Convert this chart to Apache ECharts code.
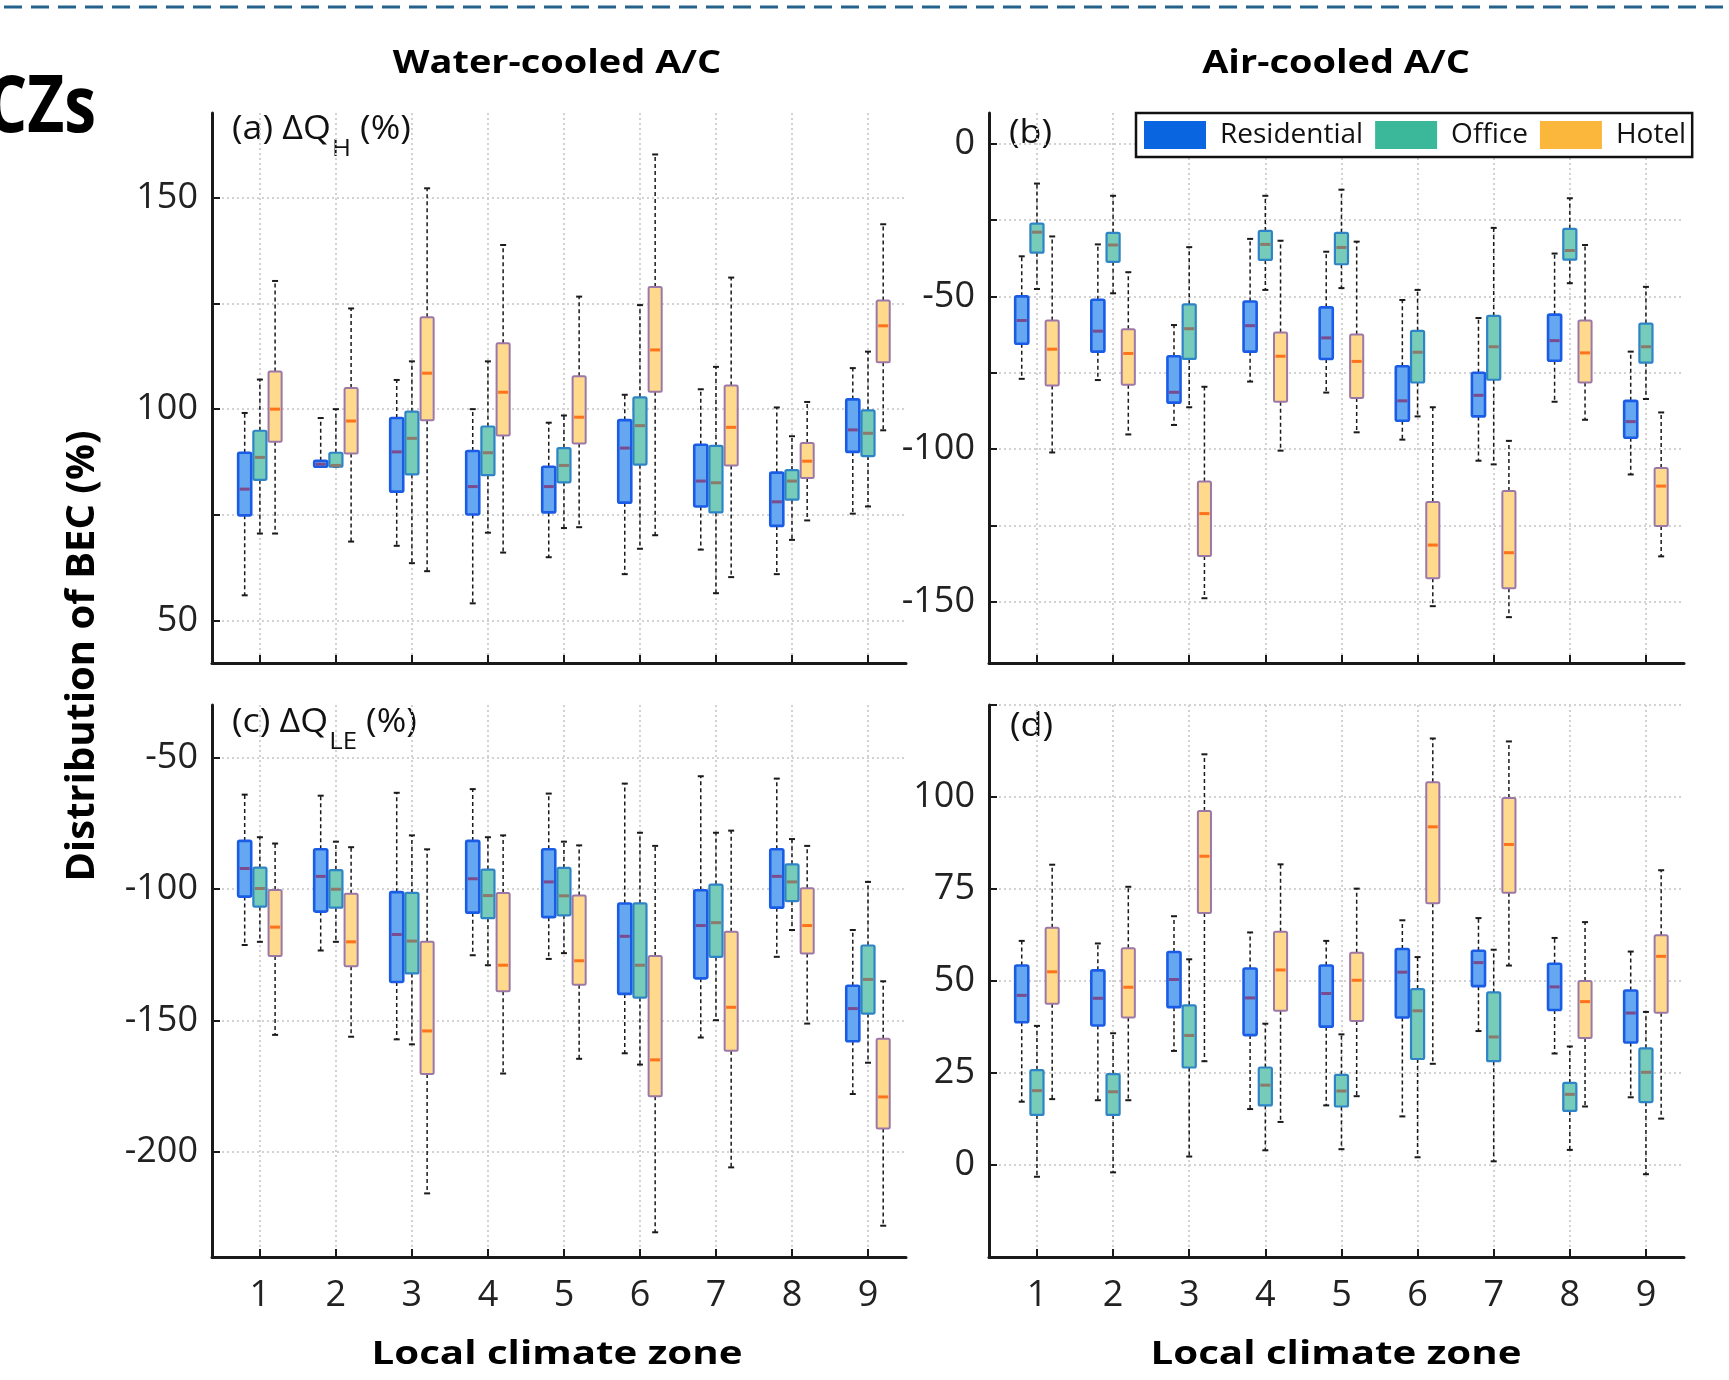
<!DOCTYPE html>
<html>
<head>
<meta charset="utf-8">
<script src="https://cdn.jsdelivr.net/npm/echarts@6/dist/echarts.min.js"></script>
<style>
html,body{margin:0;padding:0;background:#fff;}
#chart{width:1729px;height:1380px;}
</style>
</head>
<body>
<div id="chart"></div>
<script>
// ---------------- DATA ----------------
// categories (local climate zones)
const LCZ = [1, 2, 3, 4, 5, 6, 7, 8, 9];
const SERIES_NAMES = ['Residential', 'Office', 'Hotel'];
// each entry: [whisker min, Q1, median, Q3, whisker max]
// (a) Water-cooled, ΔQ_H (%)
const a_residential = [[56.0,74.9,81.1,89.7,99.1],[86.4,86.4,87.0,87.8,97.9],[67.7,80.5,89.9,97.9,106.9],[54.1,75.1,81.7,90.1,100.0],[65.0,75.6,81.7,86.4,96.8],[61.0,77.9,90.8,97.4,103.4],[66.8,77.0,83.0,91.6,104.7],[61.0,72.4,78.1,85.0,100.4],[75.3,89.9,95.1,102.3,109.7]];
const a_office = [[70.6,83.3,88.6,94.9,107.0],[86.4,86.4,86.7,89.7,100.0],[63.6,84.6,93.1,99.4,111.3],[70.8,84.4,89.7,95.9,111.3],[71.9,82.7,86.7,90.8,98.5],[67.0,86.9,96.1,102.8,124.6],[56.5,75.6,82.6,91.3,110.0],[69.1,78.6,83.0,85.6,93.6],[77.0,88.9,94.3,99.7,113.6]];
const a_hotel = [[70.6,92.3,100.0,108.9,130.3],[68.7,89.5,97.2,105.0,123.8],[61.7,97.4,108.5,121.7,152.2],[66.1,93.8,104.0,115.6,138.8],[72.1,91.9,98.1,107.8,126.6],[70.2,104.1,114.0,128.9,160.2],[60.3,86.7,95.7,105.6,131.1],[73.7,83.7,87.7,92.0,101.7],[95.0,111.1,119.7,125.7,143.7]];
// (b) Air-cooled, ΔQ_H (%)
const b_residential = [[-77.0,-65.5,-57.9,-50.0,-36.9],[-77.4,-68.1,-61.4,-51.1,-33.0],[-92.1,-84.8,-81.4,-69.6,-59.4],[-77.9,-68.1,-59.6,-51.7,-31.2],[-81.5,-70.5,-63.6,-53.6,-35.4],[-96.9,-90.7,-84.2,-72.9,-51.2],[-103.8,-89.3,-82.4,-75.0,-57.1],[-84.5,-71.1,-64.5,-56.0,-36.0],[-108.3,-96.3,-91.0,-84.2,-68.1]];
const b_office = [[-47.6,-35.7,-29.0,-26.2,-13.1],[-49.0,-38.7,-33.2,-29.2,-17.1],[-86.3,-70.5,-60.6,-52.6,-33.9],[-47.9,-38.1,-33.0,-28.6,-17.1],[-47.3,-39.5,-34.0,-29.2,-15.1],[-89.3,-78.2,-68.3,-61.3,-47.9],[-105.0,-77.3,-66.5,-56.4,-27.6],[-45.7,-38.0,-35.0,-27.9,-17.9],[-83.6,-71.7,-66.5,-58.9,-46.9]];
const b_hotel = [[-101.1,-79.2,-67.3,-57.9,-30.4],[-95.2,-78.9,-68.7,-60.8,-42.1],[-148.8,-135.0,-121.1,-110.6,-79.6],[-100.5,-84.5,-69.6,-61.8,-31.8],[-94.5,-83.3,-71.3,-62.5,-32.1],[-151.4,-142.3,-131.4,-117.3,-86.3],[-155.0,-145.5,-133.9,-113.7,-97.3],[-90.4,-78.2,-68.5,-57.9,-33.2],[-135.1,-125.2,-112.1,-106.2,-88.0]];
// (c) Water-cooled, ΔQ_LE (%)
const c_residential = [[-121.3,-102.9,-92.2,-81.7,-64.1],[-123.4,-108.6,-95.2,-84.9,-64.5],[-157.2,-135.4,-117.3,-101.2,-63.4],[-125.2,-109.0,-96.1,-81.7,-62.0],[-126.6,-110.7,-97.3,-84.9,-63.7],[-162.5,-139.9,-118.0,-105.5,-59.9],[-156.5,-134.0,-113.9,-100.5,-57.1],[-125.8,-107.1,-95.2,-84.9,-58.0],[-178.0,-157.9,-145.5,-136.8,-115.6]];
const c_office = [[-120.1,-106.7,-99.8,-91.9,-80.3],[-120.1,-107.1,-100.1,-92.8,-82.0],[-159.1,-132.1,-119.8,-101.5,-79.6],[-129.0,-111.1,-102.5,-92.6,-80.3],[-124.4,-110.0,-102.6,-92.0,-82.0],[-166.8,-141.3,-129.0,-105.5,-78.6],[-149.9,-125.8,-112.8,-98.3,-78.6],[-115.6,-104.6,-97.3,-90.6,-81.0],[-166.1,-147.4,-134.4,-121.5,-97.3]];
const c_hotel = [[-155.5,-125.5,-114.5,-100.4,-82.7],[-156.2,-129.4,-120.1,-101.8,-84.1],[-215.8,-170.4,-154.0,-120.1,-84.9],[-170.2,-138.9,-129.0,-101.5,-79.6],[-164.6,-136.4,-127.3,-102.5,-83.4],[-230.6,-178.8,-165.0,-125.5,-83.6],[-205.9,-161.5,-145.0,-116.3,-77.8],[-151.2,-124.5,-113.9,-99.7,-83.6],[-228.1,-191.1,-179.1,-157.0,-135.1]];
// (d) Air-cooled, ΔQ_LE (%)
const d_residential = [[17.2,38.8,46.1,54.2,60.9],[17.6,37.9,45.3,52.9,60.2],[31.0,42.9,50.4,57.9,67.6],[15.2,35.3,45.4,53.4,63.2],[16.2,37.6,46.6,54.2,60.9],[13.2,40.1,52.4,58.7,66.5],[36.4,48.6,55.0,58.2,67.1],[30.3,42.1,48.4,54.7,61.7],[18.4,33.3,41.3,47.4,58.0]];
const d_office = [[-3.2,13.6,20.2,25.8,37.8],[-2.0,13.6,19.9,24.7,35.8],[2.3,26.5,35.2,43.4,55.9],[4.0,16.2,21.7,26.5,38.4],[4.3,15.9,20.1,24.5,35.5],[2.1,28.8,41.9,47.8,56.5],[1.0,28.2,34.8,46.9,58.5],[4.1,14.7,19.2,22.3,32.2],[-2.5,17.1,25.2,31.7,41.6]];
const d_hotel = [[17.9,43.8,52.5,64.5,81.6],[17.6,40.1,48.3,58.9,75.6],[28.2,68.5,83.9,96.2,111.6],[11.7,41.9,53.0,63.4,81.7],[18.7,39.1,50.2,57.7,75.1],[27.5,71.1,91.9,104.0,115.9],[54.2,74.0,87.1,99.7,115.1],[15.9,34.5,44.4,50.0,66.0],[12.6,41.4,56.7,62.4,80.1]];

// tick values and labels
const xTicks = [1, 2, 3, 4, 5, 6, 7, 8, 9];
const yTicksA = [50, 75, 100, 125, 150];     const yLabelsA = [50, 100, 150];
const yTicksB = [-150, -125, -100, -75, -50, -25, 0]; const yLabelsB = [-150, -100, -50, 0];
const yTicksC = [-200, -150, -100, -50];     const yLabelsC = [-200, -150, -100, -50];
const yTicksD = [0, 25, 50, 75, 100, 125];   const yLabelsD = [0, 25, 50, 75, 100];

// ---------------- STYLE ----------------
const FONT = '"Open Sans", "Liberation Sans", sans-serif';
const STYLES = {
  Residential: {fill: '#65a7f0', border: '#1b5ce6', bw: 2.6, med: '#7a4b8e', legend: '#0a66e0', off: -0.2},
  Office:      {fill: '#76ccb8', border: '#2e84c6', bw: 2.2, med: '#8c7a6a', legend: '#3bb89a', off: 0},
  Hotel:       {fill: '#ffd98c', border: '#9c78a8', bw: 2.0, med: '#ff731a', legend: '#fbb73c', off: 0.2}
};
const BOX_W = 0.172;

const GRIDS = [
  {left: 212, top: 113, width: 694, height: 550},
  {left: 989, top: 113, width: 695, height: 550},
  {left: 212, top: 705, width: 694, height: 552},
  {left: 989, top: 705, width: 695, height: 552}
];
const Y_RANGES = [[40, 170], [-170, 10], [-240, -30], [-25, 125]];
const Y_TICKS = [yTicksA, yTicksB, yTicksC, yTicksD];
const Y_LABELS = [yLabelsA, yLabelsB, yLabelsC, yLabelsD];
const PANEL_DATA = [
  [a_residential, a_office, a_hotel],
  [b_residential, b_office, b_hotel],
  [c_residential, c_office, c_hotel],
  [d_residential, d_office, d_hotel]
];

const gridLine = {show: true, lineStyle: {color: '#d2d2d2', width: 2, type: [2, 3]}};
const axisLine = {show: true, onZero: false, lineStyle: {color: '#1a1a1a', width: 3}};

const xAxes = GRIDS.map((g, i) => ({
  type: 'value', gridIndex: i, min: 0.37, max: 9.5,
  axisLine: axisLine,
  axisTick: {show: true, inside: true, length: 8, lineStyle: {color: '#1a1a1a', width: 2}, customValues: xTicks},
  axisLabel: {show: i >= 2, customValues: xTicks, margin: 21, fontSize: 36, fontFamily: FONT, color: '#222'},
  splitLine: gridLine
}));
const yAxes = GRIDS.map((g, i) => ({
  type: 'value', gridIndex: i, min: Y_RANGES[i][0], max: Y_RANGES[i][1],
  axisLine: axisLine,
  axisTick: {show: true, inside: true, length: 8, lineStyle: {color: '#1a1a1a', width: 2}, customValues: Y_TICKS[i]},
  axisLabel: {show: true, customValues: Y_LABELS[i], margin: 14, fontSize: 36, fontFamily: FONT, color: '#222'},
  splitLine: gridLine
}));

function makeRender(st) {
  return function (params, api) {
    const x = api.value(0) + st.off;
    const lo = api.coord([x, api.value(1)]);
    const q1 = api.coord([x, api.value(2)]);
    const md = api.coord([x, api.value(3)]);
    const q3 = api.coord([x, api.value(4)]);
    const hi = api.coord([x, api.value(5)]);
    const hw = api.size([BOX_W, 0])[0] / 2;
    const cx = q1[0];
    const dash = {stroke: '#1a1a1a', lineWidth: 1.5, lineDash: [4, 3]};
    const cap = {stroke: '#1a1a1a', lineWidth: 2};
    return {
      type: 'group',
      children: [
        {type: 'line', shape: {x1: cx, y1: q3[1], x2: cx, y2: hi[1]}, style: dash},
        {type: 'line', shape: {x1: cx, y1: q1[1], x2: cx, y2: lo[1]}, style: dash},
        {type: 'line', shape: {x1: cx - 3, y1: hi[1], x2: cx + 3, y2: hi[1]}, style: cap},
        {type: 'line', shape: {x1: cx - 3, y1: lo[1], x2: cx + 3, y2: lo[1]}, style: cap},
        {type: 'rect', shape: {x: cx - hw, y: q3[1], width: 2 * hw, height: Math.max(q1[1] - q3[1], 1), r: 1.5},
          style: {fill: st.fill, stroke: st.border, lineWidth: st.bw}},
        {type: 'line', shape: {x1: cx - hw + 1.5, y1: md[1], x2: cx + hw - 1.5, y2: md[1]},
          style: {stroke: st.med, lineWidth: 3}}
      ]
    };
  };
}

const series = [];
PANEL_DATA.forEach((panel, pi) => {
  panel.forEach((arr, si) => {
    const name = SERIES_NAMES[si];
    const st = STYLES[name];
    series.push({
      type: 'custom', name: name, xAxisIndex: pi, yAxisIndex: pi,
      data: LCZ.map((c, k) => [c].concat(arr[k])),
      encode: {x: 0, y: [1, 2, 3, 4, 5]},
      renderItem: makeRender(st),
      itemStyle: {color: st.legend},
      silent: true, animation: false
    });
  });
});

// panel labels with subscripts
const mctx = document.createElement('canvas').getContext('2d');
function tw(text, font) { mctx.font = font; return mctx.measureText(text).width; }
function panelLabel(x, y, main, sub, tail) {
  const mf = '32px ' + FONT, sf = '23px ' + FONT;
  const base = {fill: '#111', textAlign: 'left', align: 'left', textVerticalAlign: 'middle', verticalAlign: 'middle'};
  const children = [{type: 'text', x: 0, y: 0, style: Object.assign({text: main, font: mf}, base)}];
  if (sub) {
    const w1 = tw(main, mf), w2 = tw(sub, sf);
    children.push({type: 'text', x: w1 + 1, y: 19, style: Object.assign({text: sub, font: sf}, base)});
    children.push({type: 'text', x: w1 + 1 + w2 + 8, y: 0, style: Object.assign({text: tail, font: mf}, base)});
  }
  return {type: 'group', x: x, y: y, scaleX: 1.12, children: children};
}
function bigText(text, x, y, font, sx, align) {
  return {type: 'text', x: x, y: y, scaleX: sx || 1,
    style: {text: text, font: font, fill: '#000', textAlign: align || 'center', align: align || 'center',
      textVerticalAlign: 'middle', verticalAlign: 'middle'}};
}

const graphic = [
  {type: 'line', shape: {x1: 4, y1: 7, x2: 1729, y2: 7}, style: {stroke: '#24628c', lineWidth: 3, lineDash: [18, 9]}},
  bigText('CZs', 96, 110, 'bold 78px ' + FONT, 0.82, 'right'),
  bigText('Water-cooled A/C', 557, 64, 'bold 33px ' + FONT, 1.15),
  bigText('Air-cooled A/C', 1336, 64, 'bold 33px ' + FONT, 1.15),
  bigText('Local climate zone', 557, 1355, 'bold 33px ' + FONT, 1.22),
  bigText('Local climate zone', 1336, 1355, 'bold 33px ' + FONT, 1.22),
  {type: 'text', x: 83, y: 656, rotation: Math.PI / 2,
    style: {text: 'Distribution of BEC (%)', font: 'bold 40px ' + FONT, fill: '#000',
      textAlign: 'center', align: 'center', textVerticalAlign: 'middle', verticalAlign: 'middle'}},
  panelLabel(232, 130, '(a) ΔQ', 'H', '(%)'),
  panelLabel(1009, 134, '(b)'),
  panelLabel(232, 723, '(c) ΔQ', 'LE', '(%)'),
  panelLabel(1010, 727, '(d)')
];

const option = {
  backgroundColor: '#fff',
  animation: false,
  grid: GRIDS.map(g => Object.assign({containLabel: false, outerBoundsMode: 'none'}, g)),
  xAxis: xAxes,
  yAxis: yAxes,
  legend: {
    left: 1136, top: 113, orient: 'horizontal',
    itemWidth: 62, itemHeight: 28, itemGap: 12,
    padding: [8, 6, 8, 8],
    borderColor: '#111', borderWidth: 2.5, backgroundColor: '#fff',
    icon: 'rect',
    selectedMode: false,
    textStyle: {fontSize: 28, fontFamily: FONT, color: '#111', padding: [0, 0, 0, 9]},
    itemStyle: {borderWidth: 0},
    data: SERIES_NAMES.map(n => ({name: n, itemStyle: {color: STYLES[n].legend, borderWidth: 0}}))
  },
  graphic: graphic,
  series: series
};

const chart = echarts.init(document.getElementById('chart'), null, {renderer: 'canvas'});
chart.setOption(option);
</script>
</body>
</html>
